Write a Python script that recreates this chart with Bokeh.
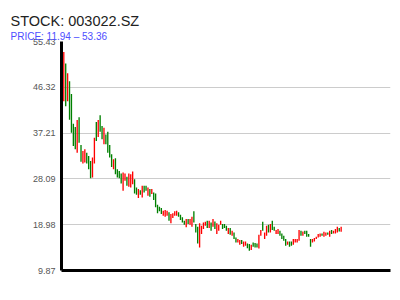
from bokeh.plotting import figure
from bokeh.models import ColumnDataSource, Range1d, FixedTicker, Title
from bokeh.embed import file_html
from bokeh.resources import INLINE

title_text = "STOCK: 003022.SZ"
subtitle_text = "PRICE: 11.94 \u2013 53.36"
y_ticks = [9.87, 18.98, 28.09, 37.21, 46.32, 55.43]
y_tick_labels = ["9.87", "18.98", "28.09", "37.21", "46.32", "55.43"]

opens = [43.55, 51.07, 43.55, 47.51, 45.00, 39.06, 38.40, 33.32, 40.38, 34.83,
         31.14, 31.34, 33.32, 32.66, 31.67, 28.36, 31.14, 39.39, 36.42, 40.77,
         38.60, 34.97, 36.95, 37.47, 34.83, 32.99, 30.02, 32.19, 30.02, 29.69,
         29.16, 25.72, 27.71, 28.50, 26.52, 26.39, 27.05, 28.03, 26.39, 24.27,
         25.86, 24.41, 26.72, 26.72, 24.74, 26.06, 25.07, 25.39, 25.20, 22.97,
         22.57, 22.30, 20.77, 20.57, 20.77, 21.44, 19.25, 20.31, 20.77, 20.77,
         21.44, 20.97, 20.44, 19.78, 18.45, 20.11, 18.98, 18.58, 21.64, 19.11,
         18.58, 14.46, 17.12, 18.12, 18.78, 19.78, 18.32, 19.44, 18.58, 19.64,
         17.12, 17.78, 18.98, 19.11, 19.11, 18.78, 17.12, 18.32, 16.78, 17.45,
         16.45, 15.45, 14.99, 15.92, 14.59, 14.79, 15.26, 15.12, 13.93, 15.46,
         15.32, 15.26, 14.26, 16.79, 19.58, 16.12, 16.79, 18.98, 17.45, 19.78,
         18.58, 17.12, 17.12, 17.78, 17.25, 16.79, 16.12, 14.99, 15.66, 15.66,
         14.99, 15.46, 15.46, 15.79, 17.78, 16.79, 17.78, 17.78, 17.12, 16.12,
         15.46, 15.66, 16.12, 16.45, 16.59, 17.25, 16.59, 16.79, 17.45, 16.59,
         17.92, 17.25, 17.25, 17.45, 18.32, 17.58]

closes = [53.36, 42.56, 49.09, 39.85, 37.28, 34.64, 33.98, 39.79, 35.30, 31.53,
          33.65, 33.98, 31.14, 30.02, 28.23, 32.33, 36.29, 35.63, 39.79, 37.47,
          35.96, 38.27, 34.97, 33.32, 32.33, 30.48, 31.99, 29.03, 28.36, 28.23,
          27.18, 29.36, 29.16, 26.72, 29.16, 29.03, 29.56, 25.20, 24.93, 26.06,
          24.93, 26.72, 25.39, 25.72, 26.39, 24.54, 26.06, 23.88, 22.44, 21.24,
          21.64, 21.10, 21.77, 21.90, 21.77, 19.78, 21.11, 21.24, 21.64, 21.77,
          20.57, 19.91, 19.44, 18.98, 20.11, 19.11, 20.11, 20.57, 19.44, 17.45,
          15.26, 19.25, 18.78, 19.44, 19.58, 18.32, 19.78, 17.78, 20.11, 18.12,
          19.25, 18.98, 19.78, 18.12, 18.32, 17.78, 18.32, 16.98, 17.78, 16.12,
          15.45, 16.12, 15.92, 15.12, 15.65, 15.65, 14.32, 13.79, 14.99, 14.59,
          14.46, 14.46, 16.99, 17.92, 17.78, 17.45, 18.78, 17.45, 19.11, 17.92,
          17.78, 17.92, 18.12, 16.79, 16.12, 15.79, 14.79, 15.66, 14.59, 14.79,
          16.12, 16.12, 16.12, 17.92, 16.79, 17.65, 17.12, 16.59, 16.59, 14.59,
          16.12, 16.32, 16.59, 17.12, 17.25, 16.79, 17.58, 17.45, 16.99, 17.78,
          17.12, 17.78, 18.12, 18.58, 17.65, 18.58]

n = len(opens)
xs = list(range(n))
tops = [max(o, c) for o, c in zip(opens, closes)]
bottoms = [min(o, c) for o, c in zip(opens, closes)]
colors = ["#ff0000" if c >= o else "#008000" for o, c in zip(opens, closes)]

src = ColumnDataSource(dict(x=xs, top=tops, bottom=bottoms, color=colors))

p = figure(width=400, height=300, output_backend="svg", toolbar_location=None,
           x_range=Range1d(-1.2, 170.8), y_range=Range1d(9.87, 55.43),
           min_border_left=61, min_border_right=10, min_border_top=41,
           min_border_bottom=30)
p.outline_line_color = None
p.background_fill_color = "white"
p.border_fill_color = "white"

p.vbar(x="x", top="top", bottom="bottom", width=0.7, fill_color="color",
       line_color=None, source=src)

p.xgrid.visible = False
p.ygrid.grid_line_color = "#cccccc"
p.ygrid.grid_line_width = 1
p.yaxis.ticker = FixedTicker(ticks=y_ticks)
p.yaxis.major_label_overrides = {t: l for t, l in zip(y_ticks, y_tick_labels)}
p.yaxis.axis_line_width = 3
p.yaxis.axis_line_color = "black"
p.yaxis.major_tick_line_color = None
p.yaxis.minor_tick_line_color = None
p.yaxis.major_tick_out = 0
p.yaxis.major_label_standoff = 6
p.yaxis.major_label_text_font = "Liberation Sans"
p.yaxis.major_label_text_font_size = "9px"
p.yaxis.major_label_text_color = "#555555"

p.xaxis.ticker = FixedTicker(ticks=[])
p.xaxis.axis_line_width = 3
p.xaxis.axis_line_color = "black"
p.xaxis.major_tick_line_color = None
p.xaxis.minor_tick_line_color = None
p.xaxis.major_tick_out = 0

p.add_layout(Title(text=subtitle_text, align="left", offset=-51, standoff=0,
                   text_font="Liberation Sans", text_font_size="10px",
                   text_font_style="normal", text_color="#4d4dff"), "above")
p.add_layout(Title(text=title_text, align="left", offset=-51, standoff=0,
                   text_font="Liberation Sans", text_font_size="14.5px",
                   text_font_style="normal", text_color="#222222"), "above")

open("out.html", "w").write(file_html(p, INLINE))
